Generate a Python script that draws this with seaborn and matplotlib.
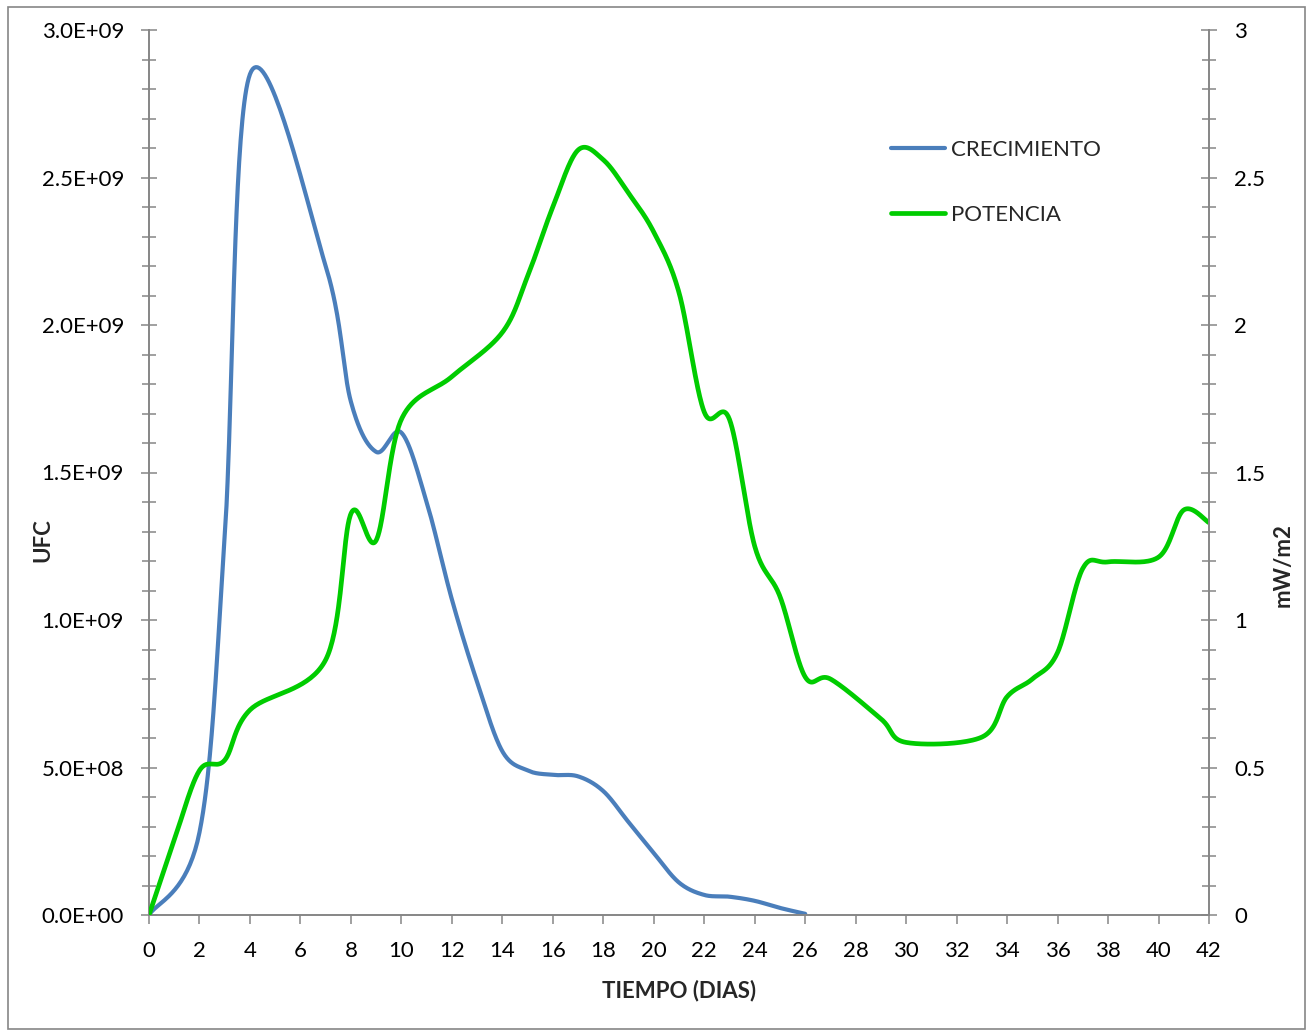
import numpy as np
import pandas as pd
import matplotlib
matplotlib.use("Agg")
import matplotlib.pyplot as plt
from matplotlib.ticker import MultipleLocator, FuncFormatter
from matplotlib.patches import Rectangle
import seaborn as sns

# ---- data -------------------------------------------------------------
dias_crec = [0, 2, 3, 4, 7, 8, 9, 10, 11, 12, 13, 14, 15, 16, 17, 18, 19, 20,
             21, 22, 23, 24, 25, 26]
crecimiento = [0.0, 0.28e9, 1.28e9, 2.85e9, 2.2e9, 1.74e9, 1.57e9, 1.635e9,
               1.40e9, 1.07e9, 0.79e9, 0.555e9, 0.49e9, 0.475e9, 0.47e9,
               0.42e9, 0.315e9, 0.21e9, 0.11e9, 0.068e9, 0.062e9, 0.048e9,
               0.024e9, 0.004e9]

dias_pot = [0, 1, 2, 3, 4, 7, 8, 9, 10, 12, 14, 15, 16, 17, 18, 19, 20, 21,
            22, 23, 24, 25, 26, 27, 29, 30, 33, 34, 35, 36, 37, 38, 40, 41, 42]
potencia = [0.0, 0.254, 0.49, 0.525, 0.695, 0.865, 1.36, 1.27, 1.68, 1.825,
            1.975, 2.165, 2.40, 2.593, 2.56, 2.447, 2.315, 2.11, 1.705, 1.68,
            1.25, 1.08, 0.807, 0.80, 0.665, 0.585, 0.603, 0.74, 0.80, 0.89,
            1.175, 1.197, 1.213, 1.373, 1.33]

x_ticks = list(range(0, 43, 2))
serie_labels = ["CRECIMIENTO", "POTENCIA"]
axis_labels = {"x": "TIEMPO (DIAS)", "y_left": "UFC", "y_right": "mW/m2"}

COLOR_CREC = "#4A7EBB"
COLOR_POT = "#00CC00"
GRAY = "#868686"


def smooth(xs, ys, n=40):
    """Cubic Bezier smoothing through every point (cardinal spline, 1/6 tension)."""
    p = np.column_stack([np.asarray(xs, float), np.asarray(ys, float)])
    m = len(p)
    out = []
    t = np.linspace(0, 1, n)[:, None]
    for i in range(m - 1):
        p0 = p[i - 1] if i > 0 else p[i]
        p1, p2 = p[i], p[i + 1]
        p3 = p[i + 2] if i + 2 < m else p[i + 1]
        c1 = p1 + (p2 - p0) / 6.0
        c2 = p2 - (p3 - p1) / 6.0
        seg = ((1 - t) ** 3) * p1 + 3 * ((1 - t) ** 2) * t * c1 \
            + 3 * (1 - t) * t ** 2 * c2 + t ** 3 * p2
        out.append(seg if i == 0 else seg[1:])
    arr = np.vstack(out)
    return pd.DataFrame({"dia": arr[:, 0], "valor": arr[:, 1]})


df_crec = smooth(dias_crec, crecimiento)
df_pot = smooth(dias_pot, potencia)

# ---- figure -----------------------------------------------------------
sns.set_theme(style="white")
plt.rcParams["font.family"] = ["Lato", "DejaVu Sans"]

W, H = 1309, 1030
fig = plt.figure(figsize=(W / 100, H / 100), dpi=100)
left, right, bottom, top = 149, 1209, 915, 30
ax = fig.add_axes([left / W, 1 - bottom / H, (right - left) / W, (bottom - top) / H])
ax2 = ax.twinx()

sns.lineplot(data=df_crec, x="dia", y="valor", ax=ax, sort=False, estimator=None,
             color=COLOR_CREC, linewidth=3.0, label=serie_labels[0], legend=False)
sns.lineplot(data=df_pot, x="dia", y="valor", ax=ax2, sort=False, estimator=None,
             color=COLOR_POT, linewidth=3.4, label=serie_labels[1], legend=False)
for a in (ax, ax2):
    for ln in a.get_lines():
        ln.set_solid_capstyle("round")
        ln.set_solid_joinstyle("round")

ax.set_xlim(0, 42)
ax.set_ylim(0, 3.0e9)
ax2.set_ylim(0, 3)

ax.set_xticks(x_ticks)
ax.xaxis.set_minor_locator(MultipleLocator(0.4))
ax.yaxis.set_major_locator(MultipleLocator(0.5e9))
ax.yaxis.set_minor_locator(MultipleLocator(0.1e9))
ax2.yaxis.set_major_locator(MultipleLocator(0.5))
ax2.yaxis.set_minor_locator(MultipleLocator(0.1))

ax.yaxis.set_major_formatter(FuncFormatter(lambda v, p: f"{v:.1E}"))
ax2.yaxis.set_major_formatter(FuncFormatter(lambda v, p: f"{v:g}"))

FS = 16
ax.tick_params(axis="x", which="major", direction="out", length=6.5, width=1.1,
               color=GRAY, labelsize=FS, pad=12.5, labelcolor="black")
ax.tick_params(axis="x", which="minor", direction="out", length=4.5, width=1.1,
               color=GRAY)
ax.tick_params(axis="y", which="major", direction="inout", length=12, width=1.1,
               color=GRAY, labelsize=FS, pad=12, labelcolor="black", left=True)
ax.tick_params(axis="y", which="minor", direction="inout", length=9.5, width=1.1,
               color=GRAY, left=True)
ax2.tick_params(axis="y", which="major", direction="inout", length=12, width=1.1,
                color=GRAY, labelsize=FS, pad=12, labelcolor="black", right=True)
ax2.tick_params(axis="y", which="minor", direction="inout", length=9.5, width=1.1,
                color=GRAY, right=True)
ax.tick_params(axis="x", bottom=True)

for a in (ax, ax2):
    a.spines["top"].set_visible(False)
    for s in ("left", "right", "bottom"):
        a.spines[s].set_color(GRAY)
        a.spines[s].set_linewidth(1.4)
ax.spines["right"].set_visible(False)
ax2.spines["left"].set_visible(False)
ax2.spines["bottom"].set_visible(False)
ax.grid(False)
ax2.grid(False)

ax.set_xlabel(axis_labels["x"], fontsize=FS, fontweight="bold")
ax.set_ylabel(axis_labels["y_left"], fontsize=FS, fontweight="bold")
ax2.set_ylabel(axis_labels["y_right"], fontsize=FS, fontweight="bold")
ax.xaxis.set_label_coords(0.5, -0.085)
ax.yaxis.set_label_coords(-0.10, 0.424)
ax2.yaxis.set_label_coords(1.0698, 0.395)
for lab in (ax.xaxis.label, ax.yaxis.label, ax2.yaxis.label):
    lab.set_va("center")
    lab.set_ha("center")
ax2.yaxis.label.set_rotation(90)

handles = ax.get_lines()[:1] + ax2.get_lines()[:1]
leg = fig.legend(handles, serie_labels, loc="upper left",
                 bbox_to_anchor=(884 / W, 1 - 133 / H), bbox_transform=fig.transFigure,
                 frameon=False, fontsize=FS, handlelength=2.45, handletextpad=0.25,
                 labelspacing=2.05, borderpad=0.3, borderaxespad=0)

# outer chart border
fig.patches.append(Rectangle((8 / W, 1 / H), (1305 - 8) / W, (1022) / H,
                             transform=fig.transFigure, fill=False,
                             edgecolor=GRAY, linewidth=1.2))

fig.savefig("out.png", dpi=100)
